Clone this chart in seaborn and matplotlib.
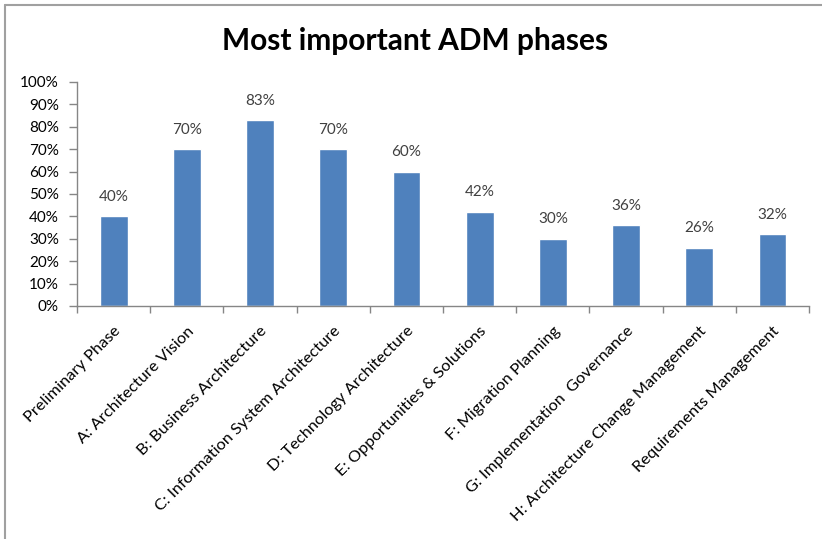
import matplotlib
matplotlib.use("Agg")
import matplotlib.pyplot as plt
import seaborn as sns
import pandas as pd
from matplotlib.lines import Line2D
from matplotlib.ticker import FixedLocator, PercentFormatter

phases = [
    "Preliminary Phase",
    "A: Architecture Vision",
    "B: Business Architecture",
    "C: Information System Architecture",
    "D: Technology Architecture",
    "E: Opportunities & Solutions",
    "F: Migration Planning",
    "G: Implementation  Governance",
    "H: Architecture Change Management",
    "Requirements Management",
]
shares = [40, 70, 83, 70, 60, 42, 30, 36, 26, 32]
y_ticks = [0, 10, 20, 30, 40, 50, 60, 70, 80, 90, 100]
title = "Most important ADM phases"

sns.set_theme(style="white")
plt.rcParams["font.family"] = ["Lato", "DejaVu Sans"]

df = pd.DataFrame({"phase": phases, "share": shares})

fig = plt.figure(figsize=(8.22, 5.39), dpi=100)
ax = fig.add_axes([0.0937, 0.4323, 0.8906, 0.4156])

sns.barplot(data=df, x="phase", y="share", color="#4F81BD", saturation=1,
            width=0.38, ax=ax)

ax.set_xlim(-0.5, len(phases) - 0.5)
ax.set_ylim(0, 100)
ax.set_xlabel("")
ax.set_ylabel("")

axis_grey = "#868686"
for side in ("top", "right"):
    ax.spines[side].set_visible(False)
for side in ("left", "bottom"):
    ax.spines[side].set_color(axis_grey)
    ax.spines[side].set_linewidth(1.0)

ax.yaxis.set_major_locator(FixedLocator(y_ticks))
ax.yaxis.set_major_formatter(PercentFormatter(decimals=0))
ax.tick_params(axis="y", which="major", direction="out", length=6, width=1,
               color=axis_grey, labelsize=11, labelcolor="#000000", pad=7, left=True)

# category boundaries carry the tick marks, names sit at the centres
ax.set_xticks(range(len(phases)))
ax.set_xticklabels(phases, rotation=45, ha="right", rotation_mode="anchor",
                   fontsize=11.8, color="#000000")
ax.tick_params(axis="x", which="major", length=0, pad=13)
ax.set_xticks([i - 0.5 for i in range(len(phases) + 1)], minor=True)
ax.tick_params(axis="x", which="minor", direction="out", length=5, width=1,
               color=axis_grey, bottom=True)

for i, v in enumerate(shares):
    ax.annotate(f"{v}%", (i, v), xytext=(0, 9), textcoords="offset points",
                ha="center", va="bottom", fontsize=11, color="#404040")

fig.text(0.505, 0.924, title, ha="center", va="center", fontsize=21.5,
         fontweight="bold", color="#000000")

# chart frame along the top and left edges
fig.add_artist(Line2D([0.006, 1.0], [0.991, 0.991], transform=fig.transFigure,
                      color="#A0A0A0", linewidth=1.5))
fig.add_artist(Line2D([0.006, 0.006], [0.0, 0.991], transform=fig.transFigure,
                      color="#A0A0A0", linewidth=1.5))

fig.savefig("out.png", dpi=100, facecolor="white")
